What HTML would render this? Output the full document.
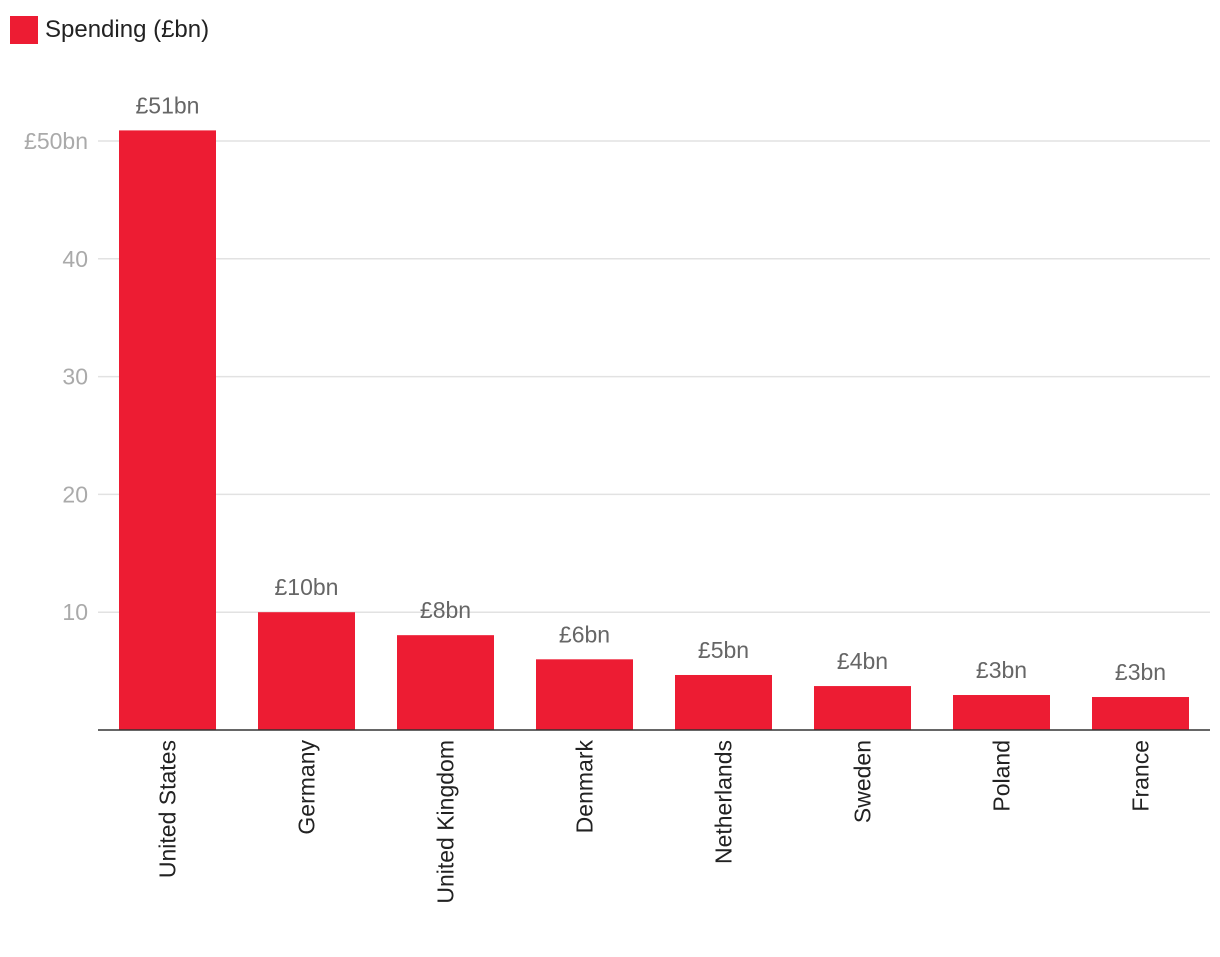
<!DOCTYPE html>
<html><head><meta charset="utf-8"><style>
body{margin:0;background:#fff;font-family:"Liberation Sans",sans-serif}
svg text{font-family:"Liberation Sans",sans-serif}
</style></head><body>
<svg id="chart" width="1220" height="952" xmlns="http://www.w3.org/2000/svg">
<rect x="10" y="16" width="28" height="28" fill="#ed1c33"/>
<text x="45" y="37" font-size="24" fill="#222">Spending (£bn)</text>
<g id="grid"></g><g id="bars"></g>
</svg>
<script>
const categories=["United States","Germany","United Kingdom","Denmark","Netherlands","Sweden","Poland","France"];
const values=[50.9,10,8.05,6,4.67,3.73,2.97,2.8];
const valueLabels=["£51bn","£10bn","£8bn","£6bn","£5bn","£4bn","£3bn","£3bn"];
const ticks=[10,20,30,40,50];
const tickLabels=["10","20","30","40","£50bn"];
const NS="http://www.w3.org/2000/svg";
const x0=98,x1=1210,y0=730,pxPer=11.78;
const y=v=>y0-v*pxPer;
const step=(x1-x0)/categories.length,bw=97;
const bx=i=>x0+i*step+(step-bw)/2;
function mk(t,a,p){const e=document.createElementNS(NS,t);for(const k in a)e.setAttribute(k,a[k]);p.appendChild(e);return e;}
const g=document.getElementById('grid'),b=document.getElementById('bars');
ticks.forEach((t,i)=>{
 const l=mk('line',{x1:x0,x2:x1,y1:y(t),y2:y(t),stroke:'#e2e2e2','stroke-width':1.5},g);
 
 
 const tx=mk('text',{x:88,y:y(t)+8,'text-anchor':'end','font-size':23,fill:'#aaa'},g);
 tx.textContent=tickLabels[i];
 
 
});
categories.forEach((c,i)=>{
 const r=mk('rect',{x:bx(i),y:y(values[i]),width:bw,height:y0-y(values[i]),fill:'#ed1c33'},b);
 
 
 const v=mk('text',{x:bx(i)+bw/2,y:y(values[i])-17,'text-anchor':'middle','font-size':23,fill:'#666'},b);
 v.textContent=valueLabels[i];
 
 
 const cx=bx(i)+bw/2+8;
 const t=mk('text',{x:cx,y:740,'text-anchor':'end','font-size':23,fill:'#222',transform:`rotate(-90 ${cx} 740)`},b);
 t.textContent=c;
 
 
});
const ax=mk('line',{x1:x0,x2:x1,y1:y0,y2:y0,stroke:'#333','stroke-width':1.5},b);


</script>
</body></html>
